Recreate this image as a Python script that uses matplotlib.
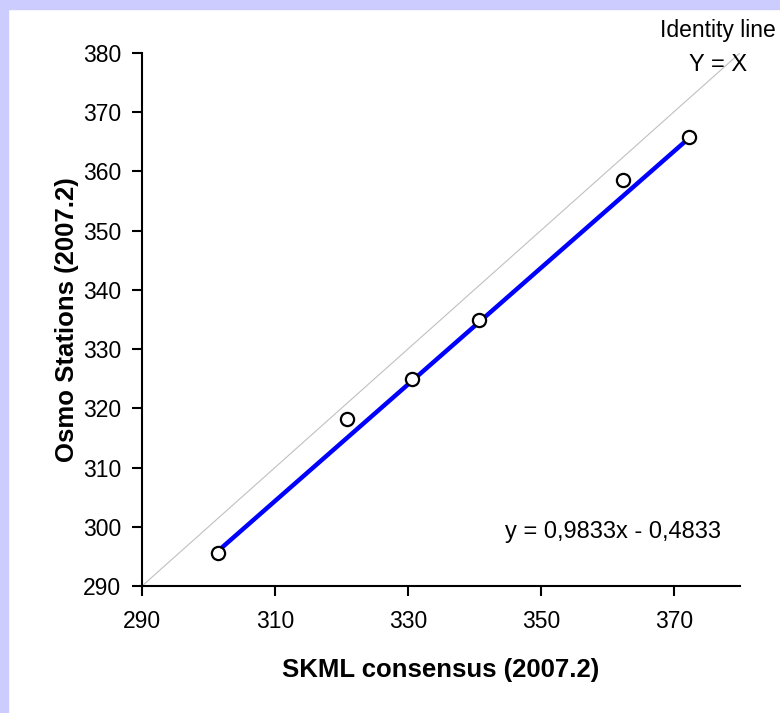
import matplotlib
matplotlib.use("Agg")
import matplotlib.pyplot as plt
import numpy as np
from matplotlib.patches import Rectangle

plt.rcParams['font.family'] = ['Liberation Sans', 'DejaVu Sans']

# data
skml = [301.5, 320.8, 330.6, 340.7, 362.4, 372.3]
osmo = [295.6, 318.2, 325.0, 334.9, 358.5, 365.8]
slope, intercept = 0.9833, -0.4833
x_ticks = [290, 310, 330, 350, 370]
y_ticks = [290, 300, 310, 320, 330, 340, 350, 360, 370, 380]

fig = plt.figure(figsize=(7.8, 7.13), dpi=100)
fig.patch.set_facecolor('white')

# lavender frame strips on top and left
lav = '#CCCCFF'
fig.patches.append(Rectangle((0, 1 - 9 / 713), 1, 9 / 713, transform=fig.transFigure,
                             color=lav, zorder=0))
fig.patches.append(Rectangle((0, 0), 8 / 780, 1, transform=fig.transFigure,
                             color=lav, zorder=0))

ax = fig.add_axes([0.182, 0.178, 0.767, 0.748])

# identity line
ax.plot([290, 380], [290, 380], color='#c0c0c0', lw=0.8, zorder=1)

# regression line over the data range
xr = np.array([min(skml), max(skml)])
ax.plot(xr, slope * xr + intercept, color='#0000FF', lw=3.2, zorder=2)

ax.plot(skml, osmo, 'o', mfc='white', mec='black', mew=1.6, ms=9.5, zorder=3)

ax.set_xlim(290, 380)
ax.set_ylim(290, 380)
ax.set_xticks(x_ticks)
ax.set_yticks(y_ticks)
ax.tick_params(direction='out', length=7, width=1.5, labelsize=16.5)
ax.tick_params(axis='x', pad=10)
ax.tick_params(axis='y', pad=8)
for s in ['top', 'right']:
    ax.spines[s].set_visible(False)
for s in ['left', 'bottom']:
    ax.spines[s].set_linewidth(1.5)

ax.set_xlabel('SKML consensus (2007.2)', fontsize=18.5, fontweight='bold', labelpad=18)
ax.set_ylabel('Osmo Stations (2007.2)', fontsize=18.5, fontweight='bold', labelpad=3)

fig.text(718 / 780, 1 - 30 / 713, 'Identity line', ha='center', va='center', fontsize=16.5)
fig.text(718 / 780, 1 - 65 / 713, 'Y = X', ha='center', va='center', fontsize=17)
ax.text(613 / 780, 1 - 532 / 713, 'y = 0,9833x - 0,4833', transform=fig.transFigure,
        ha='center', va='center', fontsize=17)

fig.savefig('out.png', dpi=100)
